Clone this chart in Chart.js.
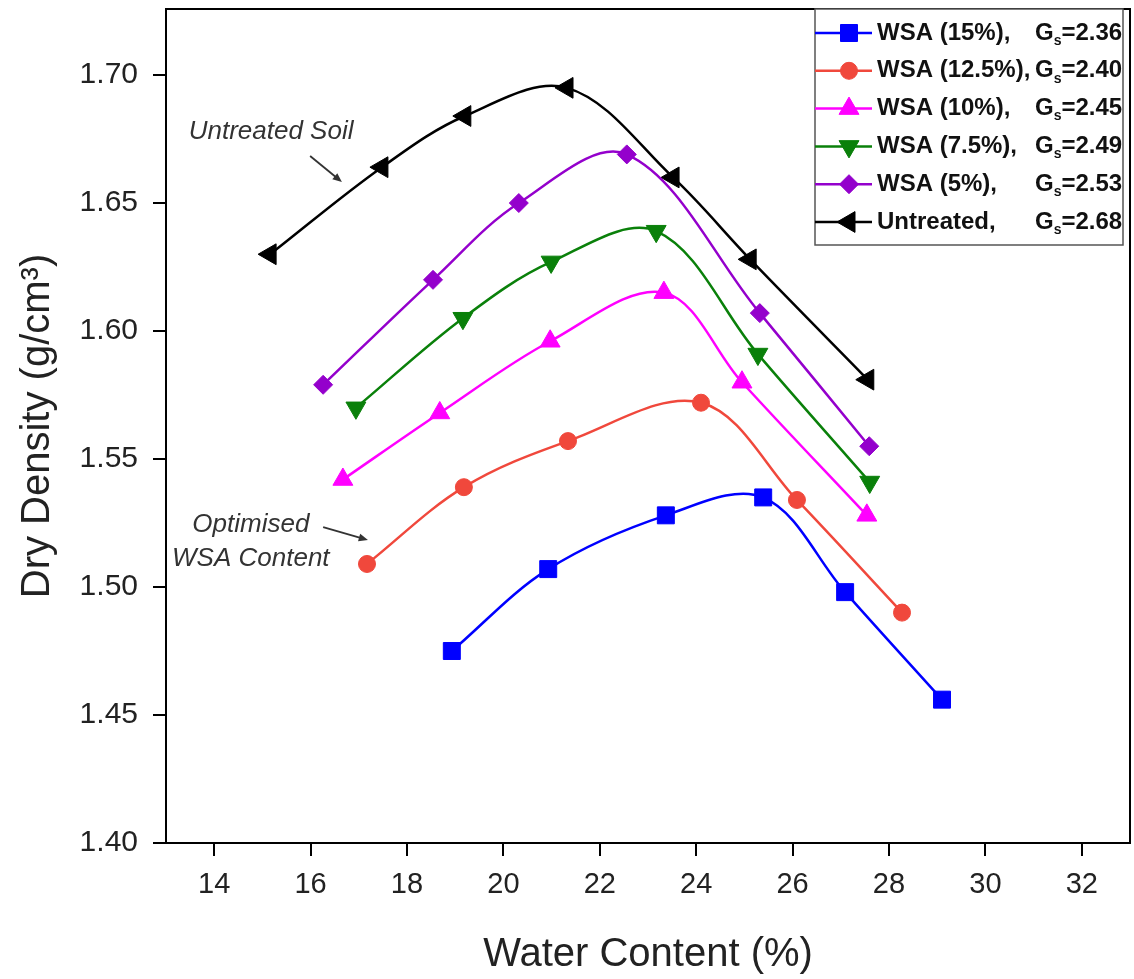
<!DOCTYPE html>
<html>
<head>
<meta charset="utf-8">
<script src="https://cdn.jsdelivr.net/npm/chart.js@4"></script>
<style>
  body { margin: 0; background: #fff; }
  #wrap { width: 1134px; height: 979px; }
</style>
</head>
<body>
<div id="wrap"><canvas id="compactionChart" width="1134" height="979"></canvas></div>
<script>
// Compaction curves
const wsa15Water = [18.93, 20.93, 23.37, 25.39, 27.09, 29.10];
const wsa15Density = [1.475, 1.507, 1.528, 1.535, 1.498, 1.456];
const wsa125Water = [17.17, 19.18, 21.34, 24.10, 26.09, 28.27];
const wsa125Density = [1.509, 1.539, 1.557, 1.572, 1.534, 1.490];
const wsa10Water = [16.67, 18.68, 20.97, 23.33, 24.95, 27.54];
const wsa10Density = [1.542, 1.568, 1.596, 1.615, 1.580, 1.528];
const wsa75Water = [16.94, 19.16, 20.99, 23.17, 25.28, 27.60];
const wsa75Density = [1.570, 1.605, 1.627, 1.639, 1.591, 1.541];
const wsa5Water = [16.26, 18.54, 20.32, 22.56, 25.32, 27.59];
const wsa5Density = [1.579, 1.620, 1.650, 1.669, 1.607, 1.555];
const untreatedWater = [15.16, 17.48, 19.20, 21.32, 23.52, 25.12, 27.56];
const untreatedDensity = [1.630, 1.664, 1.684, 1.695, 1.660, 1.628, 1.581];

const seriesLabels = ['WSA (15%),', 'WSA (12.5%),', 'WSA (10%),', 'WSA (7.5%),', 'WSA (5%),', 'Untreated,'];
const specificGravity = ['2.36', '2.40', '2.45', '2.49', '2.53', '2.68'];

const xTicks = [14, 16, 18, 20, 22, 24, 26, 28, 30, 32];
const yTicks = [1.40, 1.45, 1.50, 1.55, 1.60, 1.65, 1.70];

function toPoints(xs, ys) {
    return xs.map((x, i) => ({ x: x, y: ys[i] }));
}

function makeSet(label, xs, ys, color, style, radius, rotation) {
    return {
        label: label,
        data: toPoints(xs, ys),
        showLine: true,
        borderColor: color,
        backgroundColor: color,
        borderWidth: 2.5,
        tension: 0.35,
        pointStyle: style,
        pointRadius: radius,
        pointRotation: rotation,
        pointBorderWidth: 1,
        pointBorderColor: color,
        pointBackgroundColor: color
    };
}

const datasets = [
    makeSet(seriesLabels[0], wsa15Water, wsa15Density, '#0000ff', 'rect', 12, 0),
    makeSet(seriesLabels[1], wsa125Water, wsa125Density, '#f0483c', 'circle', 8.5, 0),
    makeSet(seriesLabels[2], wsa10Water, wsa10Density, '#ff00ff', 'triangle', 11.5, 0),
    makeSet(seriesLabels[3], wsa75Water, wsa75Density, '#0a800a', 'triangle', 11.5, 180),
    makeSet(seriesLabels[4], wsa5Water, wsa5Density, '#9400cc', 'rectRot', 9.5, 0),
    makeSet(seriesLabels[5], untreatedWater, untreatedDensity, '#000000', 'triangle', 12, 270)
];

// Frame, arrows, notes and the boxed legend
const decorations = {
    id: 'decorations',
    afterDraw(chart) {
        const ctx = chart.ctx;
        const area = chart.chartArea;
        const xs = chart.scales.x;
        const ys = chart.scales.y;
        ctx.save();

        // box round the plot
        ctx.strokeStyle = '#000';
        ctx.lineWidth = 2;
        ctx.strokeRect(area.left, area.top, area.right - area.left, area.bottom - area.top);

        // notes
        ctx.fillStyle = '#333';
        ctx.font = 'italic 26px "Liberation Sans", Arial, sans-serif';
        ctx.textAlign = 'center';
        ctx.textBaseline = 'middle';
        ctx.fillText('Untreated Soil', xs.getPixelForValue(15.18), ys.getPixelForValue(1.6777));
        ctx.fillText('Optimised', xs.getPixelForValue(14.76), ys.getPixelForValue(1.5242));
        ctx.fillText('WSA Content', xs.getPixelForValue(14.76), ys.getPixelForValue(1.5109));

        function arrow(x1, y1, x2, y2) {
            const ax = xs.getPixelForValue(x1), ay = ys.getPixelForValue(y1);
            const bx = xs.getPixelForValue(x2), by = ys.getPixelForValue(y2);
            const ang = Math.atan2(by - ay, bx - ax);
            ctx.strokeStyle = '#333';
            ctx.fillStyle = '#333';
            ctx.lineWidth = 1.8;
            ctx.beginPath();
            ctx.moveTo(ax, ay);
            ctx.lineTo(bx - 6 * Math.cos(ang), by - 6 * Math.sin(ang));
            ctx.stroke();
            ctx.beginPath();
            ctx.moveTo(bx, by);
            ctx.lineTo(bx - 10 * Math.cos(ang - 0.4), by - 10 * Math.sin(ang - 0.4));
            ctx.lineTo(bx - 10 * Math.cos(ang + 0.4), by - 10 * Math.sin(ang + 0.4));
            ctx.closePath();
            ctx.fill();
        }
        arrow(15.99, 1.6684, 16.65, 1.6582);
        arrow(16.26, 1.5234, 17.19, 1.5184);

        // legend
        const boxRight = area.right - 7;
        const boxLeft = boxRight - 308;
        const boxTop = area.top;
        const rowGap = 37.8;
        const boxBottom = boxTop + 24 + rowGap * 5 + 23;
        ctx.fillStyle = '#fff';
        ctx.fillRect(boxLeft, boxTop, boxRight - boxLeft, boxBottom - boxTop);
        ctx.strokeStyle = '#555';
        ctx.lineWidth = 1.5;
        ctx.strokeRect(boxLeft, boxTop, boxRight - boxLeft, boxBottom - boxTop);

        chart.data.datasets.forEach((ds, i) => {
            const cy = boxTop + 24 + i * rowGap;
            ctx.strokeStyle = ds.borderColor;
            ctx.fillStyle = ds.borderColor;
            ctx.lineWidth = 2.5;
            ctx.beginPath();
            ctx.moveTo(boxLeft, cy);
            ctx.lineTo(boxLeft + 57, cy);
            ctx.stroke();
            ctx.lineWidth = 1;
            Chart.helpers.drawPoint(ctx, {
                pointStyle: ds.pointStyle,
                radius: ds.pointRadius,
                rotation: ds.pointRotation,
                borderWidth: 1
            }, boxLeft + 34, cy);

            ctx.fillStyle = '#111';
            ctx.textAlign = 'left';
            ctx.textBaseline = 'middle';
            ctx.font = 'bold 24px "Liberation Sans", Arial, sans-serif';
            ctx.fillText(ds.label, boxLeft + 62, cy);
            let gx = boxLeft + 220;
            ctx.fillText('G', gx, cy);
            gx += ctx.measureText('G').width;
            ctx.font = 'bold 14px "Liberation Sans", Arial, sans-serif';
            ctx.fillText('s', gx, cy + 8);
            gx += ctx.measureText('s').width;
            ctx.font = 'bold 24px "Liberation Sans", Arial, sans-serif';
            ctx.fillText('=' + specificGravity[i], gx, cy);
        });
        ctx.restore();
    }
};

const ctx = document.getElementById('compactionChart').getContext('2d');
const compactionChart = new Chart(ctx, {
    type: 'scatter',
    data: { datasets: datasets },
    options: {
        responsive: false,
        animation: false,
        layout: { autoPadding: false, padding: { top: 9, right: 4, left: 0, bottom: 0 } },
        plugins: {
            legend: { display: false },
            tooltip: { enabled: false }
        },
        scales: {
            x: {
                type: 'linear',
                min: 13,
                max: 33,
                afterBuildTicks: (scale) => { scale.ticks = xTicks.map(v => ({ value: v })); },
                afterFit: (scale) => {
                    scale.height = 136;
                    scale.paddingLeft = 0;
                    scale.paddingRight = 0;
                },
                border: { color: '#000', width: 2 },
                grid: { drawOnChartArea: false, drawTicks: true, tickLength: 13, color: '#000', lineWidth: 2 },
                ticks: {
                    color: '#222',
                    padding: 12,
                    font: { family: '"Liberation Sans", Arial, sans-serif', size: 29 }
                },
                title: {
                    display: true,
                    text: 'Water Content (%)',
                    color: '#222',
                    padding: { top: 0, bottom: 0 },
                    font: { family: '"Liberation Sans", Arial, sans-serif', size: 40 }
                }
            },
            y: {
                type: 'linear',
                min: 1.40,
                max: 1.7258,
                afterBuildTicks: (scale) => { scale.ticks = yTicks.map(v => ({ value: v })); },
                afterFit: (scale) => {
                    scale.width = 166;
                    scale.paddingTop = 0;
                    scale.paddingBottom = 0;
                },
                border: { color: '#000', width: 2 },
                grid: { drawOnChartArea: false, drawTicks: true, tickLength: 13, color: '#000', lineWidth: 2 },
                ticks: {
                    color: '#222',
                    padding: 15,
                    callback: (v) => Number(v).toFixed(2),
                    font: { family: '"Liberation Sans", Arial, sans-serif', size: 30 }
                },
                title: {
                    display: true,
                    text: 'Dry Density (g/cm³)',
                    color: '#222',
                    padding: { top: 14, bottom: 0 },
                    font: { family: '"Liberation Sans", Arial, sans-serif', size: 40 }
                }
            }
        }
    },
    plugins: [decorations]
});
</script>
</body>
</html>
